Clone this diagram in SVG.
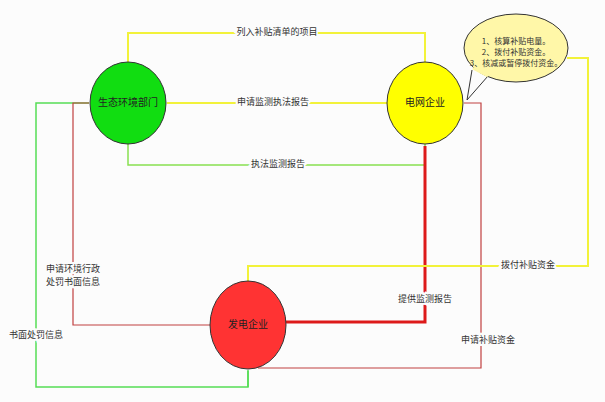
<svg xmlns="http://www.w3.org/2000/svg" width="605" height="402" viewBox="0 0 605 402">
<style>
text{font-family:"Noto Sans CJK SC","Noto Sans",sans-serif;font-size:9px;fill:#333;text-anchor:middle;dominant-baseline:middle}
.node{stroke:#333;stroke-width:1}
.nl{font-size:10px;fill:#222}
.lb{paint-order:stroke;stroke:#fcfcfc;stroke-width:4px}
path{fill:none}
</style>
<defs>
<marker id="ay" markerWidth="8" markerHeight="8" refX="7" refY="4" orient="auto" markerUnits="userSpaceOnUse"><path d="M0,0L8,4L0,8z" fill="#e8e800"/></marker>
<marker id="ag" markerWidth="8" markerHeight="8" refX="7" refY="4" orient="auto" markerUnits="userSpaceOnUse"><path d="M0,0L8,4L0,8z" fill="#22dd22"/></marker>
<marker id="ar" markerWidth="8" markerHeight="8" refX="7" refY="4" orient="auto" markerUnits="userSpaceOnUse"><path d="M0,0L8,4L0,8z" fill="#cc2020"/></marker>
<marker id="ao" markerWidth="8" markerHeight="8" refX="7" refY="4" orient="auto" markerUnits="userSpaceOnUse"><path d="M0,0L8,4L0,8z" fill="#8ab030"/></marker>
</defs>
<rect width="605" height="402" fill="#fcfcfc"/>
<g id="connectors">
<path d="M425,64V33H128V62" stroke="#f2f23a" stroke-width="2" marker-end="url(#ay)"/>
<text class="lb" x="277" y="33">列入补贴清单的项目</text>
<path d="M387,103H167" stroke="#f2f23a" stroke-width="2" marker-end="url(#ay)"/>
<text class="lb" x="273" y="103">申请监测执法报告</text>
<path d="M128,142V165H425V144" stroke="#88e050" stroke-width="1.5" marker-end="url(#ao)"/>
<text class="lb" x="278" y="165">执法监测报告</text>
<path d="M248,370V387H36V103H89" stroke="#55dd55" stroke-width="1.5"/>
<path d="M248,387V371" stroke="#55dd55" stroke-width="1.5" marker-end="url(#ag)"/>
<text class="lb" x="36" y="336">书面处罚信息</text>
<path d="M210,325H73V103H89" stroke="#c04040" stroke-width="1.2" marker-end="url(#ar)"/>
<text class="lb" x="73" y="270">申请环境行政</text>
<text class="lb" x="73" y="283">处罚书面信息</text>
<path d="M286,322H425V146" stroke="#dd1a1a" stroke-width="3" marker-end="url(#ar)"/>
<text class="lb" x="425" y="300">提供监测报告</text>
<path d="M258,368H481V103H464" stroke="#c04040" stroke-width="1.2" marker-end="url(#ar)"/>
<text class="lb" x="488" y="341">申请补贴资金</text>
<path d="M567,58H588V266H248V282" stroke="#f2f23a" stroke-width="2" marker-end="url(#ay)"/>
<text class="lb" x="528" y="266">拨付补贴资金</text>
</g>
<g id="eco"><ellipse class="node" cx="128" cy="103" rx="38" ry="41" fill="#11dd11"/><text class="nl" x="128" y="103">生态环境部门</text></g>
<g id="grid"><ellipse class="node" cx="425" cy="103" rx="38" ry="41" fill="#ffff00"/><text class="nl" x="425" y="103">电网企业</text></g>
<g id="power"><ellipse class="node" cx="248" cy="325" rx="38" ry="44" fill="#ff3333"/><text class="nl" x="248" y="325">发电企业</text></g>
<g id="callout">
<path d="M472,70 L467,100 L488,76" fill="#fff7a8" stroke="#333"/>
<ellipse cx="516" cy="48" rx="52" ry="34" fill="#fff7a8" stroke="#333"/>
<path d="M473,68 L488,76" stroke="#fff7a8" stroke-width="3"/>
<text x="516" y="42" style="font-size:8px">1、核算补贴电量。</text>
<text x="516" y="53" style="font-size:8px">2、拨付补贴资金。</text>
<text x="516" y="64" style="font-size:8px">3、核减或暂停拨付资金。</text>
</g>
</svg>
